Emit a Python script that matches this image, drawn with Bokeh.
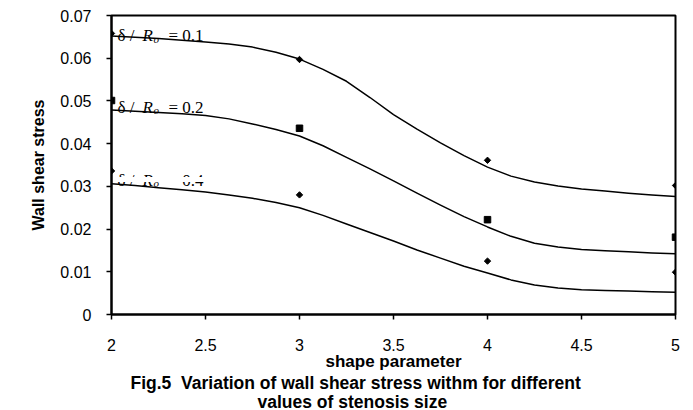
from bokeh.plotting import figure
from bokeh.models import (FixedTicker, CustomJSTickFormatter, Label, Title,
                          Range1d, BoxAnnotation)
from bokeh.embed import file_html
from bokeh.resources import INLINE
import math

# ---- data ----
x_curve = [2.0, 2.125, 2.25, 2.375, 2.5, 2.625, 2.75, 2.875, 3.0, 3.125, 3.25,
           3.375, 3.5, 3.625, 3.75, 3.875, 4.0, 4.125, 4.25, 4.375, 4.5, 4.625,
           4.75, 4.875, 5.0]
wss_01_curve = [0.0652, 0.0649, 0.0646, 0.0642, 0.0638, 0.0633, 0.0626, 0.0614,
                0.0598, 0.0574, 0.0546, 0.0508, 0.0468, 0.0434, 0.0402, 0.0372,
                0.0345, 0.0324, 0.0310, 0.0301, 0.0294, 0.0289, 0.0284, 0.0280,
                0.0276]
wss_02_curve = [0.0479, 0.0476, 0.0473, 0.0470, 0.0466, 0.0458, 0.0446, 0.0433,
                0.0418, 0.0395, 0.0368, 0.0341, 0.0313, 0.0284, 0.0256, 0.0229,
                0.0205, 0.0183, 0.0167, 0.0158, 0.0152, 0.0149, 0.0147, 0.0144,
                0.0142]
wss_04_curve = [0.0306, 0.0302, 0.0297, 0.0292, 0.0287, 0.0280, 0.0272, 0.0262,
                0.0250, 0.0232, 0.0212, 0.0192, 0.0172, 0.0151, 0.0132, 0.0113,
                0.0097, 0.0081, 0.0069, 0.0062, 0.0058, 0.0056, 0.0055, 0.0053,
                0.0052]

x_pts = [2, 3, 4, 5]
wss_01_pts = [0.0658, 0.0597, 0.0361, 0.0302]
wss_02_pts = [0.0501, 0.0436, 0.0222, 0.0181]
wss_04_pts = [0.0336, 0.0280, 0.0125, 0.0099]

x_ticks = [2, 2.5, 3, 3.5, 4, 4.5, 5]
y_ticks = [0, 0.01, 0.02, 0.03, 0.04, 0.05, 0.06, 0.07]

labels = [("0.1", 0.0653), ("0.2", 0.0485), ("0.4", 0.0314)]

SANS = "Liberation Sans"
SERIF = "Liberation Serif"

p = figure(width=685, height=410, output_backend="svg", toolbar_location=None,
           x_range=Range1d(2, 5), y_range=Range1d(0, 0.07))
p.min_border_left = 111
p.min_border_right = 10
p.min_border_top = 15
p.min_border_bottom = 2
p.background_fill_color = "white"
p.border_fill_color = "white"
p.outline_line_color = "black"
p.outline_line_width = 2
p.xgrid.visible = False
p.ygrid.visible = False

fmt = CustomJSTickFormatter(code="""
    var s = tick.toFixed(2);
    if (s.indexOf('.') >= 0) { s = s.replace(/0+$/, '').replace(/\\.$/, ''); }
    return s;
""")

for ax, ticks in ((p.xaxis, x_ticks), (p.yaxis, y_ticks)):
    ax.ticker = FixedTicker(ticks=ticks)
    ax.formatter = fmt
    ax.minor_tick_line_color = None
    ax.major_tick_in = 0
    ax.major_tick_out = 5
    ax.major_tick_line_width = 1.5
    ax.axis_line_width = 2
    ax.major_label_text_font = SANS
    ax.major_label_text_font_size = "16px"
    ax.major_label_text_color = "black"
    ax.axis_label_text_font = SANS
    ax.axis_label_text_font_style = "bold"
    ax.axis_label_text_font_size = "16px"
    ax.axis_label_text_color = "black"

p.xaxis.major_label_standoff = 19
p.xaxis.axis_label = "shape parameter"
p.xaxis.axis_label_text_font_size = "17px"
p.xaxis.axis_label_standoff = -2
p.yaxis.major_label_standoff = 15
p.yaxis.axis_label = "Wall shear stress"
p.yaxis.axis_label_standoff = 10

# curves
for ys in (wss_01_curve, wss_02_curve, wss_04_curve):
    p.line(x_curve, ys, line_color="black", line_width=1.5, line_join="round")

# points
p.scatter(x_pts, wss_01_pts, marker="square", angle=math.pi / 4, size=4.5,
          fill_color="black", line_color="black")
p.scatter(x_pts, wss_02_pts, marker="square", size=6.5,
          fill_color="black", line_color="black")
p.scatter(x_pts, wss_04_pts, marker="square", angle=math.pi / 4, size=4.5,
          fill_color="black", line_color="black")

# curve labels  δ / R_o = value
for val, yb in labels:
    p.add_layout(Label(x=2, y=yb, x_offset=6, text="δ / ", text_font=SERIF,
                       text_font_size="17px", text_baseline="alphabetic",
                       text_color="black"))
    p.add_layout(Label(x=2, y=yb, x_offset=31, text="R", text_font=SERIF,
                       text_font_style="italic", text_font_size="17px",
                       text_baseline="alphabetic", text_color="black"))
    p.add_layout(Label(x=2, y=yb, x_offset=42, y_offset=-3, text="o",
                       text_font=SERIF, text_font_style="italic",
                       text_font_size="11px", text_baseline="alphabetic",
                       text_color="black"))
    p.add_layout(Label(x=2, y=yb, x_offset=57, text="= " + val, text_font=SERIF,
                       text_font_size="17px", text_baseline="alphabetic",
                       text_color="black"))

# the third label is cut off at its bottom in the original
p.add_layout(BoxAnnotation(left=2.01, right=2.55, bottom=0.0310, top=0.0322,
                           fill_color="white", fill_alpha=1.0, line_alpha=0,
                           level="overlay"))

# caption below
cap1 = Title(text="Fig.5\u00a0 Variation of wall shear stress withm for different",
             align="left", offset=19, text_font=SANS, text_font_style="bold",
             text_font_size="17.5px", text_color="black", standoff=-5,
             text_line_height=1.0)
cap2 = Title(text="values of stenosis size", align="left", offset=146,
             text_font=SANS, text_font_style="bold", text_font_size="17.5px",
             text_color="black", standoff=-2, text_line_height=1.0)
p.add_layout(cap1, "below")
p.add_layout(cap2, "below")

open("out.html", "w").write(file_html(p, INLINE))
